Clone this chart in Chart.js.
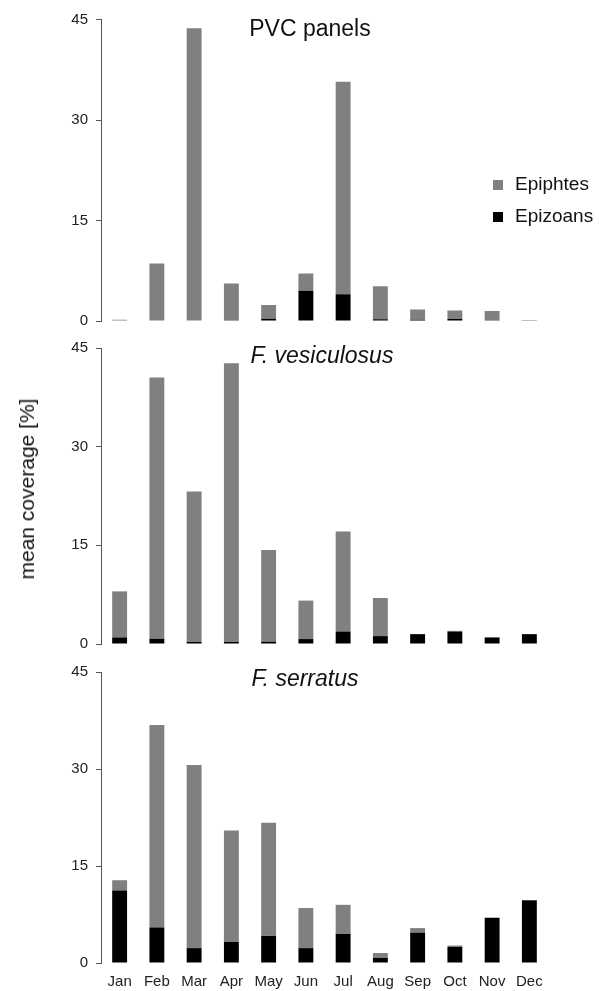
<!DOCTYPE html>
<html>
<head>
<meta charset="utf-8">
<script src="https://cdn.jsdelivr.net/npm/chart.js@4.4.1/dist/chart.umd.min.js"></script>
<style>
  html, body { margin: 0; padding: 0; background: #fff; }
  #wrap { position: relative; width: 599px; height: 991px; overflow: hidden; }
  #wrap canvas { position: absolute; left: 0; }
  #ylabel {
    position: absolute; left: 27px; top: 489px;
    transform: translate(-50%, -50%) rotate(-90deg);
    font: 21px "Liberation Sans", Arial, sans-serif; color: #111; white-space: nowrap;
  }
</style>
</head>
<body>
<div id="wrap">
  <canvas id="pvcChart"></canvas>
  <canvas id="vesChart"></canvas>
  <canvas id="serChart"></canvas>
  <div id="ylabel">mean coverage [%]</div>
</div>
<script>
const months = ["Jan", "Feb", "Mar", "Apr", "May", "Jun", "Jul", "Aug", "Sep", "Oct", "Nov", "Dec"];
const yTicks = [0, 15, 30, 45];

// PVC panels
const pvcEpizoans  = [0, 0, 0, 0.1, 0.35, 4.5, 4.0, 0.25, 0.2, 0.3, 0.1, 0];
const pvcEpiphytes = [0.2, 8.6, 43.7, 5.5, 2.05, 2.6, 31.7, 4.95, 1.5, 1.25, 1.4, 0.15];

// F. vesiculosus
const vesEpizoans  = [1.0, 0.8, 0.3, 0.3, 0.35, 0.75, 1.9, 1.2, 1.5, 1.9, 1.0, 1.5];
const vesEpiphytes = [7.0, 39.7, 22.9, 42.4, 13.95, 5.85, 15.2, 5.8, 0, 0.1, 0, 0];

// F. serratus
const serEpizoans  = [11.2, 5.5, 2.3, 3.25, 4.2, 2.3, 4.5, 0.8, 4.7, 2.5, 7.0, 9.7];
const serEpiphytes = [1.6, 31.3, 28.3, 17.25, 17.5, 6.2, 4.5, 0.75, 0.7, 0.2, 0, 0];

const grayColor = "#808080";
const blackColor = "#000000";
const fontFamily = '"Liberation Sans", Arial, sans-serif';

// Draws the panel title inside the plot area, plus an optional legend
const panelTextPlugin = {
    id: "panelText",
    afterDraw: (chart, args, opts) => {
        const ctx = chart.ctx;
        const area = chart.chartArea;
        ctx.save();
        ctx.fillStyle = "#111";
        ctx.textBaseline = "middle";
        ctx.textAlign = "center";
        ctx.font = (opts.italic ? "italic " : "") + "23px " + fontFamily;
        ctx.fillText(opts.title, opts.titleX, area.top + opts.titleDy);

        if (opts.legend) {
            ctx.textAlign = "left";
            ctx.font = "19px " + fontFamily;
            const items = [chart.data.datasets[1], chart.data.datasets[0]];
            items.forEach((ds, i) => {
                const y = opts.legendY + i * 32;
                ctx.fillStyle = ds.backgroundColor;
                ctx.fillRect(opts.legendX, y - 5, 10, 10);
                ctx.fillStyle = "#111";
                ctx.fillText(ds.label, opts.legendX + 22, y);
            });
        }
        ctx.restore();
    }
};

const makePanel = (id, top, height, padTop, xHeight, showX, epizoans, epiphytes, textOpts) => {
    const canvas = document.getElementById(id);
    canvas.style.top = top + "px";
    canvas.width = 599;
    canvas.height = height;
    canvas.style.width = "599px";
    canvas.style.height = height + "px";

    return new Chart(canvas.getContext("2d"), {
        type: "bar",
        data: {
            labels: months,
            datasets: [
                { label: "Epizoans", data: epizoans, backgroundColor: blackColor },
                { label: "Epiphtes", data: epiphytes, backgroundColor: grayColor }
            ]
        },
        options: {
            responsive: false,
            animation: false,
            layout: { padding: { top: padTop, right: 51, bottom: 0, left: 0 } },
            datasets: { bar: { categoryPercentage: 1, barPercentage: 0.4, borderWidth: 0 } },
            plugins: {
                legend: { display: false },
                tooltip: { enabled: false },
                panelText: textOpts
            },
            scales: {
                x: {
                    stacked: true,
                    grid: { display: false, drawTicks: false },
                    border: { display: false },
                    ticks: { display: showX, padding: 10, color: "#222", font: { family: fontFamily, size: 15 } },
                    afterFit: (scale) => { scale.height = xHeight; }
                },
                y: {
                    stacked: true,
                    min: 0,
                    max: 45,
                    afterBuildTicks: (scale) => { scale.ticks = yTicks.map(v => ({ value: v })); },
                    grid: { drawOnChartArea: false, tickLength: 5, color: "#555" },
                    border: { display: true, color: "#555", width: 1 },
                    ticks: { padding: 8, color: "#222", font: { family: fontFamily, size: 15 } },
                    afterFit: (scale) => { scale.width = 101; }
                }
            }
        },
        plugins: [panelTextPlugin]
    });
};

// canvases overlap a little: the y labels keep some room under each plot
makePanel("pvcChart", 0, 338, 19.5, 10, false, pvcEpizoans, pvcEpiphytes,
    { title: "PVC panels", italic: false, titleX: 310, titleDy: 10, legend: true, legendX: 493, legendY: 185 });
makePanel("vesChart", 330, 331, 18, 10, false, vesEpizoans, vesEpiphytes,
    { title: "F. vesiculosus", italic: true, titleX: 322, titleDy: 9, legend: false });
makePanel("serChart", 653, 338, 19, 28, true, serEpizoans, serEpiphytes,
    { title: "F. serratus", italic: true, titleX: 305, titleDy: 8, legend: false });
</script>
</body>
</html>
